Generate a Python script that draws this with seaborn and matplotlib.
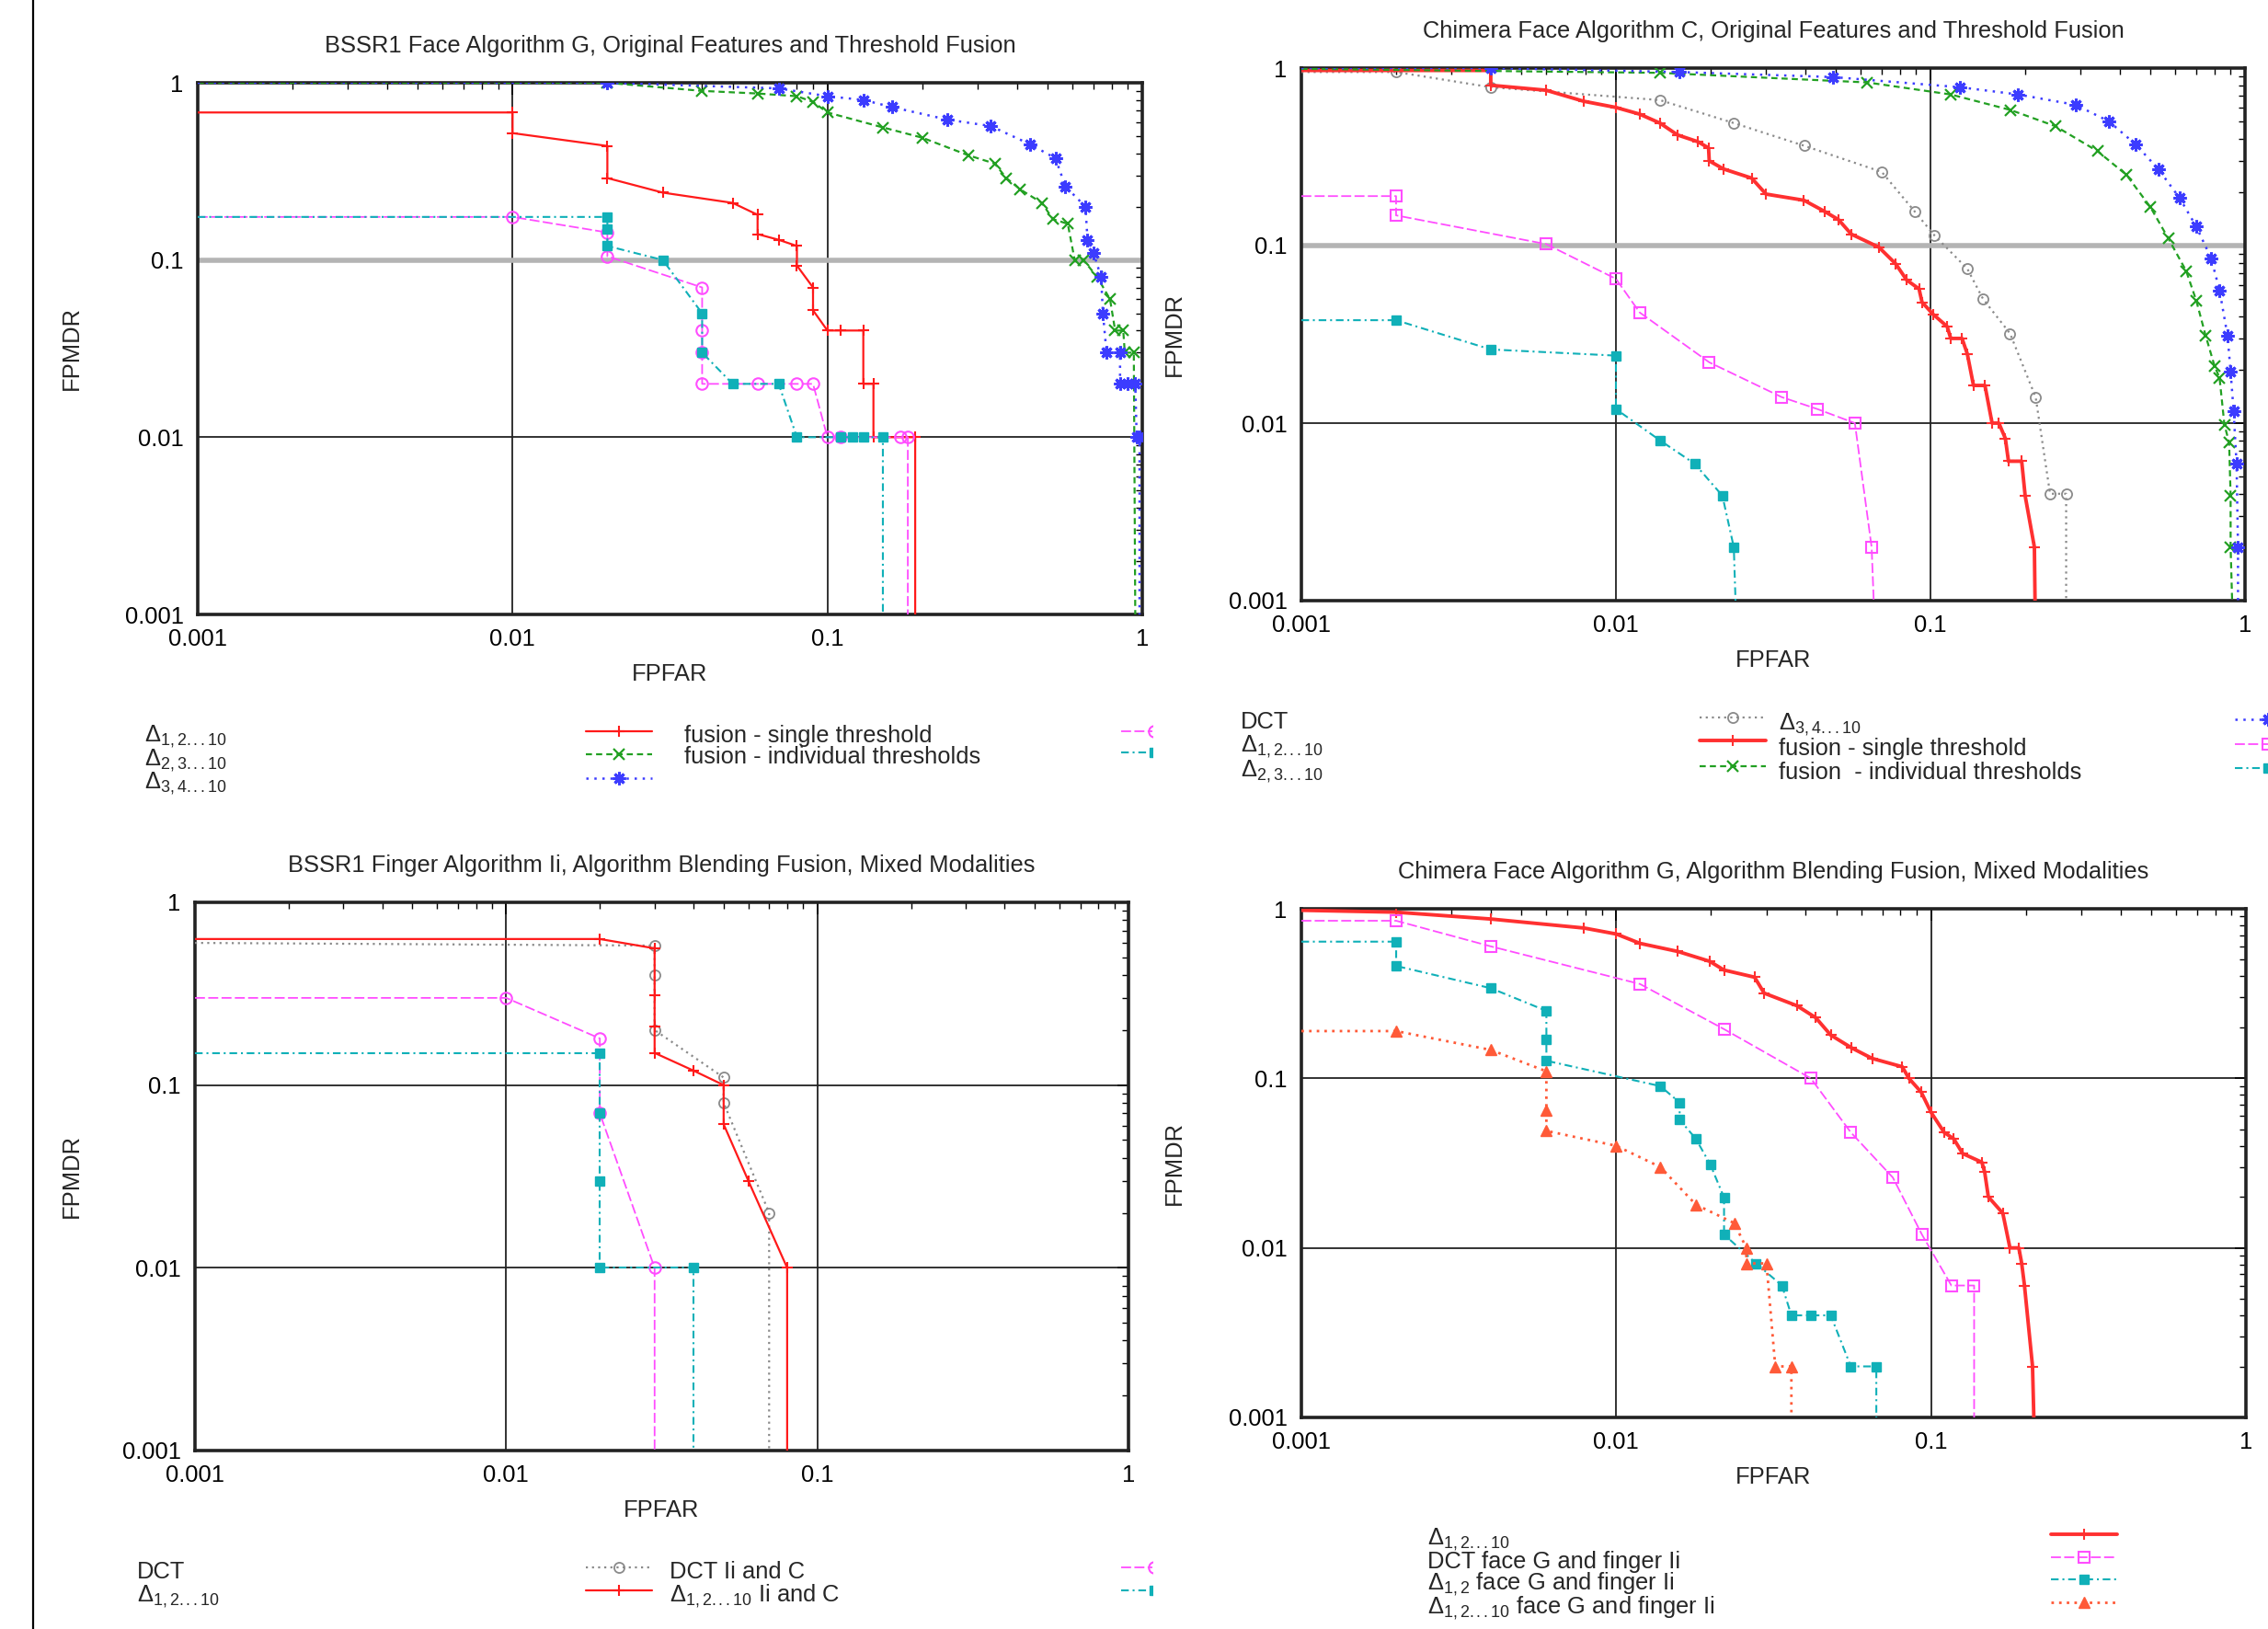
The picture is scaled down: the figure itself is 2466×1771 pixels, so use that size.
import numpy as np
import matplotlib
matplotlib.use("Agg")
import matplotlib.pyplot as plt
from matplotlib.lines import Line2D
from matplotlib.ticker import LogLocator, NullFormatter
from matplotlib.transforms import Bbox, TransformedBbox
import seaborn as sns

W, H, DPI = 2466, 1771, 100
FS = 18.4

sns.set_theme(style="white")
plt.rcParams["font.family"] = ["Liberation Sans", "DejaVu Sans"]
plt.rcParams["mathtext.fontset"] = "custom"
plt.rcParams["mathtext.rm"] = "Liberation Sans"
plt.rcParams["mathtext.it"] = "Liberation Sans"
plt.rcParams["mathtext.default"] = "rm"

# ------------------------------------------------------------------
# data (FPFAR on x, FPMDR on y)
# ------------------------------------------------------------------
TICKS = [0.001, 0.01, 0.1, 1]
TICK_LABELS = ["0.001", "0.01", "0.1", "1"]

# panel 1 - BSSR1 Face Algorithm G
P1_D12_X = [0.001, 0.01, 0.01, 0.02, 0.02, 0.03, 0.05, 0.06, 0.06, 0.07, 0.08, 0.08, 0.09, 0.09, 0.10, 0.11, 0.13, 0.13, 0.14, 0.14, 0.19, 0.19]
P1_D12_Y = [0.68, 0.68, 0.52, 0.44, 0.29, 0.24, 0.21, 0.18, 0.14, 0.13, 0.12, 0.093, 0.07, 0.052, 0.04, 0.04, 0.04, 0.02, 0.02, 0.01, 0.01, 0.001]
P1_D23_X = [0.001, 0.02, 0.04, 0.06, 0.08, 0.09, 0.10, 0.15, 0.20, 0.28, 0.34, 0.37, 0.41, 0.48, 0.52, 0.58, 0.61, 0.65, 0.72, 0.79, 0.82, 0.87, 0.88, 0.94, 0.95]
P1_D23_Y = [1.0, 1.0, 0.90, 0.87, 0.84, 0.78, 0.68, 0.56, 0.49, 0.39, 0.35, 0.29, 0.25, 0.21, 0.17, 0.16, 0.10, 0.10, 0.08, 0.06, 0.04, 0.04, 0.03, 0.03, 0.001]
P1_D34_X = [0.001, 0.02, 0.07, 0.10, 0.13, 0.16, 0.24, 0.33, 0.44, 0.53, 0.57, 0.66, 0.67, 0.70, 0.74, 0.75, 0.77, 0.85, 0.85, 0.90, 0.95, 0.96, 0.98, 0.98]
P1_D34_Y = [1.0, 1.0, 0.93, 0.84, 0.80, 0.73, 0.62, 0.57, 0.45, 0.375, 0.26, 0.20, 0.13, 0.11, 0.08, 0.05, 0.03, 0.03, 0.02, 0.02, 0.02, 0.01, 0.01, 0.001]
P1_FUS1_X = [0.001, 0.01, 0.02, 0.02, 0.04, 0.04, 0.04, 0.04, 0.06, 0.08, 0.09, 0.10, 0.11, 0.17, 0.18, 0.18]
P1_FUS1_Y = [0.175, 0.175, 0.143, 0.105, 0.07, 0.04, 0.03, 0.02, 0.02, 0.02, 0.02, 0.01, 0.01, 0.01, 0.01, 0.001]
P1_FUS2_X = [0.001, 0.02, 0.02, 0.02, 0.03, 0.04, 0.04, 0.05, 0.07, 0.08, 0.11, 0.12, 0.13, 0.15, 0.15]
P1_FUS2_Y = [0.175, 0.175, 0.15, 0.12, 0.10, 0.05, 0.03, 0.02, 0.02, 0.01, 0.01, 0.01, 0.01, 0.01, 0.001]

# panel 2 - Chimera Face Algorithm C
P2_DCT_X = [0.001, 0.002, 0.004, 0.0138, 0.0237, 0.0397, 0.07, 0.089, 0.103, 0.131, 0.147, 0.179, 0.216, 0.24, 0.27, 0.27]
P2_DCT_Y = [0.95, 0.95, 0.78, 0.66, 0.49, 0.365, 0.26, 0.156, 0.114, 0.074, 0.05, 0.032, 0.014, 0.004, 0.004, 0.001]
P2_D12_X = [0.001, 0.004, 0.004, 0.006, 0.0079, 0.01, 0.0119, 0.0138, 0.0157, 0.0182,
            0.0197, 0.0198, 0.022, 0.027, 0.030, 0.0396, 0.046, 0.051, 0.056, 0.0685,
            0.0775, 0.084, 0.092, 0.094, 0.102, 0.113, 0.116, 0.126, 0.131, 0.137,
            0.149, 0.157, 0.165, 0.173, 0.177, 0.195, 0.2, 0.214, 0.215]
P2_D12_Y = [0.97, 0.97, 0.8, 0.75, 0.65, 0.6, 0.55, 0.49, 0.42, 0.385,
            0.355, 0.3, 0.27, 0.24, 0.195, 0.18, 0.156, 0.14, 0.116, 0.098,
            0.079, 0.064, 0.057, 0.048, 0.041, 0.035, 0.030, 0.030, 0.0245, 0.0163,
            0.0163, 0.01, 0.01, 0.0082, 0.0061, 0.0061, 0.0039, 0.002, 0.001]
P2_D23_X = [0.001, 0.0138, 0.063, 0.116, 0.18, 0.25, 0.34, 0.42, 0.50, 0.57, 0.65, 0.70, 0.75, 0.80, 0.83, 0.86, 0.89, 0.90, 0.90, 0.91]
P2_D23_Y = [0.99, 0.94, 0.83, 0.71, 0.58, 0.47, 0.34, 0.25, 0.165, 0.11, 0.072, 0.049, 0.031, 0.021, 0.018, 0.0098, 0.0078, 0.0039, 0.002, 0.001]
P2_D34_X = [0.001, 0.004, 0.0159, 0.049, 0.124, 0.19, 0.29, 0.37, 0.45, 0.53, 0.62, 0.70, 0.78, 0.83, 0.88, 0.90, 0.92, 0.94, 0.95, 0.95]
P2_D34_Y = [1.0, 1.0, 0.95, 0.89, 0.78, 0.71, 0.62, 0.50, 0.37, 0.27, 0.185, 0.128, 0.085, 0.056, 0.031, 0.0195, 0.0117, 0.0059, 0.002, 0.001]
P2_FUS1_X = [0.001, 0.002, 0.002, 0.006, 0.01, 0.0119, 0.0198, 0.0337, 0.0437, 0.0575, 0.065, 0.066]
P2_FUS1_Y = [0.19, 0.19, 0.148, 0.102, 0.065, 0.042, 0.022, 0.014, 0.012, 0.01, 0.002, 0.001]
P2_FUS2_X = [0.001, 0.002, 0.004, 0.01, 0.01, 0.0138, 0.0178, 0.0218, 0.0237, 0.024]
P2_FUS2_Y = [0.038, 0.038, 0.026, 0.024, 0.012, 0.008, 0.0059, 0.0039, 0.002, 0.001]

# panel 3 - BSSR1 Finger Algorithm Ii
P3_DCT_X = [0.001, 0.03, 0.03, 0.03, 0.05, 0.05, 0.07, 0.07]
P3_DCT_Y = [0.6, 0.58, 0.4, 0.2, 0.11, 0.08, 0.02, 0.001]
P3_D12_X = [0.001, 0.02, 0.03, 0.03, 0.03, 0.03, 0.04, 0.05, 0.05, 0.06, 0.08, 0.08]
P3_D12_Y = [0.63, 0.63, 0.56, 0.31, 0.21, 0.15, 0.12, 0.10, 0.061, 0.03, 0.01, 0.001]
P3_DCT_IC_X = [0.001, 0.01, 0.02, 0.02, 0.03, 0.03]
P3_DCT_IC_Y = [0.3, 0.3, 0.18, 0.07, 0.01, 0.001]
P3_D12_IC_X = [0.001, 0.02, 0.02, 0.02, 0.02, 0.04, 0.04]
P3_D12_IC_Y = [0.15, 0.15, 0.07, 0.03, 0.01, 0.01, 0.001]

# panel 4 - Chimera Face Algorithm G, mixed modalities
P4_D12_X = [0.001, 0.002, 0.004, 0.0079, 0.01, 0.0119, 0.0157, 0.0198, 0.022, 0.0275,
            0.0295, 0.0375, 0.043, 0.048, 0.056, 0.065, 0.081, 0.085, 0.093, 0.10,
            0.11, 0.118, 0.126, 0.145, 0.148, 0.152, 0.169, 0.178, 0.19, 0.194,
            0.198, 0.21, 0.212]
P4_D12_Y = [0.98, 0.955, 0.87, 0.77, 0.71, 0.625, 0.56, 0.49, 0.435, 0.395,
            0.318, 0.268, 0.228, 0.18, 0.151, 0.131, 0.117, 0.10, 0.083, 0.063,
            0.048, 0.044, 0.036, 0.032, 0.028, 0.020, 0.016, 0.01, 0.01, 0.0081,
            0.006, 0.002, 0.001]
P4_DCT_GI_X = [0.001, 0.002, 0.004, 0.0119, 0.022, 0.0415, 0.0556, 0.0756, 0.0935, 0.116, 0.137, 0.137]
P4_DCT_GI_Y = [0.85, 0.85, 0.6, 0.36, 0.195, 0.1, 0.048, 0.026, 0.012, 0.006, 0.006, 0.001]
P4_D1_2_GI_X = [0.001, 0.002, 0.002, 0.004, 0.006, 0.006, 0.006, 0.0138, 0.0159, 0.0159, 0.0179,
                0.0199, 0.022, 0.022, 0.0278, 0.0336, 0.036, 0.0415, 0.048, 0.0556, 0.067, 0.067]
P4_D1_2_GI_Y = [0.64, 0.64, 0.46, 0.34, 0.25, 0.17, 0.127, 0.09, 0.072, 0.057, 0.044,
                0.031, 0.0198, 0.012, 0.0081, 0.006, 0.004, 0.004, 0.004, 0.002, 0.002, 0.001]
P4_D12_GI_X = [0.001, 0.002, 0.004, 0.006, 0.006, 0.006, 0.01, 0.0138, 0.0179, 0.0237, 0.0259, 0.0259, 0.03, 0.032, 0.036, 0.036]
P4_D12_GI_Y = [0.19, 0.19, 0.147, 0.11, 0.065, 0.049, 0.04, 0.03, 0.018, 0.014, 0.01, 0.0081, 0.0081, 0.002, 0.002, 0.001]

D12 = r"$\Delta_{1,2...10}$"
D23 = r"$\Delta_{2,3...10}$"
D34 = r"$\Delta_{3,4...10}$"

# ------------------------------------------------------------------
# gnuplot-like line styles
# ------------------------------------------------------------------
STYLES = {
    "red": dict(color="#ff1a1a", linestyle="-", linewidth=1.6, marker="+", markersize=9,
                markeredgewidth=1.5, markerfacecolor="none"),
    "green": dict(color="#22a022", linestyle=(0, (3, 2)), linewidth=1.6, marker="x", markersize=8,
                  markeredgewidth=1.6, markerfacecolor="none"),
    "blue": dict(color="#3c3cff", linestyle=(0, (1, 2.5)), linewidth=1.8, marker=(8, 2, 0), markersize=10,
                 markeredgewidth=2.2, markerfacecolor="none"),
    "pink": dict(color="#ff4dff", linestyle=(0, (6, 2)), linewidth=1.3, marker="o", markersize=9,
                 markeredgewidth=1.5, markerfacecolor="none"),
    "cyan": dict(color="#10b0b8", linestyle=(0, (4, 2, 1, 2)), linewidth=1.5, marker="s", markersize=7,
                 markeredgewidth=1.0, markerfacecolor="#10b0b8"),
    "gray": dict(color="#8a8a8a", linestyle=(0, (1, 2)), linewidth=1.6, marker="o", markersize=8,
                 markeredgewidth=1.3, markerfacecolor="none"),
    "orange": dict(color="#ff5a38", linestyle=(0, (1, 2)), linewidth=2.0, marker="^", markersize=8,
                   markeredgewidth=1.0, markerfacecolor="#ff5a38"),
}
THICK = dict(linewidth=2.8, color="#ff3030")
SQUARE = dict(marker="s", markersize=8)


def px(x):
    return x / W


def py(y):
    return 1 - y / H


# panel layout: axes box in pixels (left, top, right, bottom); key columns as
# (text x, sample x, first row y, entries); key_step = row pitch in pixels
PANELS = [
    dict(box=(215, 90, 1242, 668),
         title="BSSR1 Face Algorithm G, Original Features and Threshold Fusion",
         gray01=True, key_step=25,
         series=[(P1_D12_X, P1_D12_Y, "red", {}), (P1_D23_X, P1_D23_Y, "green", {}),
                 (P1_D34_X, P1_D34_Y, "blue", {}), (P1_FUS1_X, P1_FUS1_Y, "pink", {}),
                 (P1_FUS2_X, P1_FUS2_Y, "cyan", {})],
         key=[(157, 637, 797, [(D12, "red", {}), (D23, "green", {}), (D34, "blue", {})]),
              (744, 1219, 797, [("fusion - single threshold", "pink", {}),
                                ("fusion - individual thresholds", "cyan", {})])],
         clip=1253),
    dict(box=(1415, 74, 2441, 653),
         title="Chimera Face Algorithm C, Original Features and Threshold Fusion",
         gray01=True, key_step=27,
         series=[(P2_DCT_X, P2_DCT_Y, "gray", {}), (P2_D12_X, P2_D12_Y, "red", THICK),
                 (P2_D23_X, P2_D23_Y, "green", {}), (P2_D34_X, P2_D34_Y, "blue", {}),
                 (P2_FUS1_X, P2_FUS1_Y, "pink", SQUARE), (P2_FUS2_X, P2_FUS2_Y, "cyan", {})],
         key=[(1349, 1848, 782, [("DCT", "gray", {}), (D12, "red", THICK), (D23, "green", {})]),
              (1934, 2430, 784, [(D34, "blue", {}), ("fusion - single threshold", "pink", SQUARE),
                                 ("fusion  - individual thresholds", "cyan", {})])],
         clip=None),
    dict(box=(212, 981, 1227, 1577),
         title="BSSR1 Finger Algorithm Ii, Algorithm Blending Fusion, Mixed Modalities",
         gray01=False, key_step=27,
         series=[(P3_DCT_X, P3_DCT_Y, "gray", {}), (P3_D12_X, P3_D12_Y, "red", {}),
                 (P3_DCT_IC_X, P3_DCT_IC_Y, "pink", {}), (P3_D12_IC_X, P3_D12_IC_Y, "cyan", {})],
         key=[(149, 637, 1706, [("DCT", "gray", {}), (D12, "red", {})]),
              (728, 1219, 1706, [("DCT Ii and C", "pink", {}), (D12 + " Ii and C", "cyan", {})])],
         clip=1253),
    dict(box=(1415, 988, 2442, 1541),
         title="Chimera Face Algorithm G, Algorithm Blending Fusion, Mixed Modalities",
         gray01=False, key_step=25,
         series=[(P4_D12_X, P4_D12_Y, "red", THICK), (P4_DCT_GI_X, P4_DCT_GI_Y, "pink", SQUARE),
                 (P4_D1_2_GI_X, P4_D1_2_GI_Y, "cyan", {}), (P4_D12_GI_X, P4_D12_GI_Y, "orange", {})],
         key=[(1552, 2230, 1670, [(D12, "red", THICK), ("DCT face G and finger Ii", "pink", SQUARE),
                                  (r"$\Delta_{1,2}$ face G and finger Ii", "cyan", {}),
                                  (D12 + " face G and finger Ii", "orange", {})])],
         clip=None),
]


def style_of(name, extra):
    st = dict(STYLES[name])
    st.update(extra)
    return st


def draw_key(fig, entries, text_x, sample_x, row_y, step, clip_x):
    labels = [lab for lab, _, _ in entries]
    blanks = [Line2D([], [], linestyle="none") for _ in entries]
    proxies = [Line2D([], [], **style_of(name, extra)) for _, name, extra in entries]
    # fixed row height (handleheight) so every column steps the same way
    spacing = (step - 31.9) / (FS * DPI / 72)
    common = dict(loc="upper left", frameon=False, fontsize=FS, borderpad=0, borderaxespad=0,
                  handleheight=1.45, labelspacing=spacing, numpoints=1)
    top = py(row_y - 14)
    fig.legend(blanks, labels, bbox_to_anchor=(px(text_x), top),
               handlelength=0, handletextpad=0, **common)
    leg = fig.legend(proxies, labels, bbox_to_anchor=(px(sample_x), top),
                     handlelength=2.8, handletextpad=0.5, **common)
    for t in leg.get_texts():
        t.set_alpha(0)
    if clip_x is not None:
        box = TransformedBbox(Bbox([[0, 0], [px(clip_x), 1]]), fig.transFigure)
        for ln in leg.get_lines():
            ln.set_clip_box(box)


fig = plt.figure(figsize=(W / DPI, H / DPI), dpi=DPI)

# page margin rule on the left
fig.add_artist(Line2D([px(36), px(36)], [0, 1], color="black", linewidth=1.6))

for p in PANELS:
    l, t, r, b = p["box"]
    ax = fig.add_axes([px(l), py(b), px(r) - px(l), py(t) - py(b)])

    for xs, ys, name, extra in p["series"]:
        st = style_of(name, extra)
        first = 1 if xs[0] <= 0.001 else 0
        last = -1 if ys[-1] <= 0.001 else None
        sns.lineplot(x=xs, y=ys, ax=ax, sort=False, estimator=None, legend=False,
                     markeredgecolor=st["color"], markevery=slice(first, last), zorder=3, **st)

    ax.set_xscale("log")
    ax.set_yscale("log")
    ax.set_xlim(0.001, 1)
    ax.set_ylim(0.001, 1)
    ax.set_xticks(TICKS, TICK_LABELS)
    ax.set_yticks(TICKS, TICK_LABELS)
    for axis in (ax.xaxis, ax.yaxis):
        axis.set_minor_locator(LogLocator(base=10, subs=(2, 3, 4, 5, 6, 7, 8, 9)))
        axis.set_minor_formatter(NullFormatter())
    ax.tick_params(which="both", direction="in", top=True, right=True, labelsize=FS, colors="black")
    ax.tick_params(which="major", length=9, width=1.2, pad=11)
    ax.tick_params(which="minor", length=5, width=1.0)
    ax.grid(which="major", color="#222222", linewidth=1.3)
    ax.set_axisbelow(True)
    if p["gray01"]:
        ax.axhline(0.1, color="#b4b4b4", linewidth=4, zorder=1.5)
    for s in ax.spines.values():
        s.set_linewidth(2.6)
        s.set_color("#222222")

    h_px = b - t
    w_px = r - l
    ax.set_title(p["title"], fontsize=FS, y=1 + 40 / h_px, pad=0, va="center")
    ax.set_xlabel("FPFAR", fontsize=FS, va="center")
    ax.xaxis.set_label_coords(0.5, -65 / h_px)
    ax.set_ylabel("FPMDR", fontsize=FS, va="center")
    ax.yaxis.set_label_coords((78 - l) / w_px if l < 1000 else (1277 - l) / w_px, 0.5)

    for text_x, sample_x, row_y, entries in p["key"]:
        draw_key(fig, entries, text_x, sample_x, row_y, p["key_step"], p["clip"])

fig.savefig("out.png", dpi=DPI, facecolor="white")
